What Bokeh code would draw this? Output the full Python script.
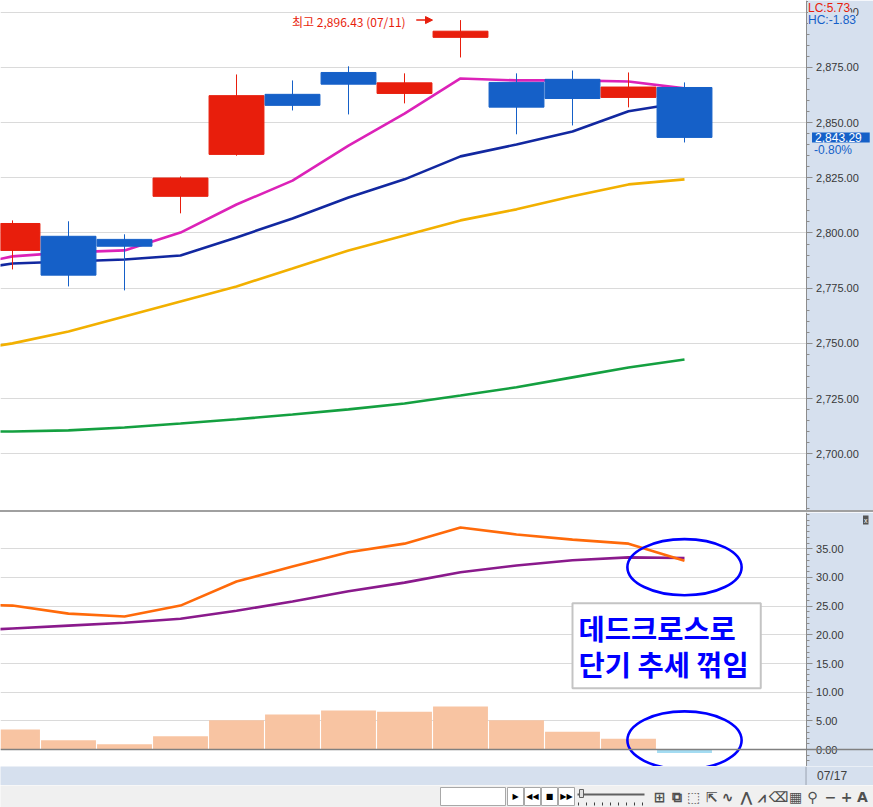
import numpy as np
from bokeh.plotting import figure
from bokeh.models import (Range1d, FixedTicker, NumeralTickFormatter, Label, Arrow,
                          NormalHead, Span, Spacer, ColumnDataSource, LinearAxis, Grid,
                          BoxAnnotation)
from bokeh.layouts import column
from bokeh.embed import file_html
from bokeh.resources import INLINE
from bokeh.core.properties import value

# ---------------- data ----------------
dates = ["06/28", "07/01", "07/02", "07/03", "07/04", "07/05", "07/08",
         "07/09", "07/10", "07/11", "07/12", "07/15", "07/16", "07/17"]
candle_dates = dates[1:]

opens  = [2792.1, 2798.5, 2797.1, 2816.6, 2835.6, 2862.8, 2872.7, 2863.2, 2888.6, 2868.2, 2869.6, 2861.4, 2865.9]
highs  = [2805.7, 2805.3, 2799.4, 2825.6, 2871.8, 2869.1, 2875.5, 2872.3, 2896.43, 2872.3, 2873.6, 2872.7, 2868.2]
lows   = [2783.5, 2775.8, 2774.0, 2808.9, 2835.0, 2855.5, 2853.7, 2858.7, 2879.5, 2844.7, 2848.7, 2856.9, 2841.0]
closes = [2804.3, 2780.9, 2794.0, 2824.9, 2862.2, 2857.8, 2867.4, 2868.0, 2891.4, 2857.0, 2860.9, 2866.1, 2843.29]

ma5  = [2784.0, 2789.4, 2791.2, 2792.1, 2800.2, 2812.9, 2823.7, 2839.6, 2854.1, 2870.0, 2869.1, 2869.1, 2868.6, 2865.5]
ma10 = [2782.2, 2786.2, 2787.1, 2788.0, 2789.8, 2798.0, 2806.6, 2816.1, 2824.3, 2834.7, 2840.1, 2846.0, 2855.1, 2859.2]
ma20 = [2745.9, 2750.0, 2755.4, 2762.2, 2769.0, 2775.8, 2783.9, 2792.1, 2798.9, 2805.7, 2810.7, 2816.6, 2822.0, 2824.3]
ma60 = [2709.9, 2710.1, 2710.6, 2711.9, 2713.7, 2715.6, 2717.8, 2720.1, 2722.8, 2726.4, 2730.1, 2734.6, 2739.1, 2742.7]

osc_line   = [25.4, 25.1, 23.7, 23.2, 25.1, 29.3, 31.9, 34.4, 35.9, 38.7, 37.5, 36.6, 35.9, 32.9]
osc_signal = [20.6, 21.1, 21.6, 22.1, 22.8, 24.2, 25.8, 27.6, 29.1, 30.9, 32.1, 33.0, 33.5, 33.4]
osc_hist   = [3.5, 1.6, 0.9, 2.3, 5.1, 6.1, 6.8, 6.6, 7.5, 5.1, 3.1, 1.9, -0.6]

price_ticks = [2700, 2725, 2750, 2775, 2800, 2825, 2850, 2875, 2900]
osc_ticks = [0, 5, 10, 15, 20, 25, 30, 35]
lc_value, hc_value = 5.73, -1.83
note_text = "데드크로스로\n단기 추세 꺾임"

# ---------------- styles / layout ----------------
W = 873
H_PRICE, H_SEP, H_OSC, H_STRIP, H_TB = 510, 2, 254, 19, 22
X_RANGE = (-0.2143, 15.375)
AXIS_X = 14.17            # position of the price scale column
P_Y = (2674.3, 2905.3)
O_Y = (-2.96, 41.33)
AXIS_BG = "#D6E0EE"
RED, BLUE = "#E81E0C", "#1560C8"
C_MA5, C_MA10, C_MA20, C_MA60 = "#DC22B8", "#1228A0", "#F2B000", "#14A040"
C_OSC, C_SIG = "#FF6A0A", "#8A1A8C"
PEACH, SKY = "#F8C4A2", "#A4DCF2"
FONT = "Liberation Sans"
KFONT = "Noto Sans CJK KR"

x_all = np.arange(len(dates)) - 1
cx = np.arange(len(closes))
xr = Range1d(*X_RANGE)


def plain_figure(height, x_range, y_range, bg):
    f = figure(width=W, height=height, x_range=x_range, y_range=y_range,
               output_backend="svg", toolbar_location=None,
               y_axis_location=None, x_axis_location=None, min_border=0,
               background_fill_color=bg, border_fill_color=bg,
               outline_line_color=None)
    for g in f.grid:
        g.visible = False
        g.grid_line_color = None
    return f


def make_panel(height, y_range, ticks, minor, fmt):
    f = plain_figure(height, xr, y_range, "white")
    ticker = FixedTicker(ticks=ticks, minor_ticks=minor)
    f.add_layout(Grid(dimension=1, ticker=ticker, grid_line_color="#DADADA"))
    f.add_layout(BoxAnnotation(left=AXIS_X, fill_color=AXIS_BG, fill_alpha=1,
                               line_color=None, level="underlay"))
    ax = LinearAxis(fixed_location=AXIS_X, ticker=ticker, formatter=NumeralTickFormatter(format=fmt))
    ax.axis_line_color = "#8C8C8C"
    ax.major_tick_line_color = "#8C8C8C"
    ax.minor_tick_line_color = "#8C8C8C"
    ax.major_tick_out = 6
    ax.major_tick_in = 0
    ax.minor_tick_out = 3
    ax.minor_tick_in = 0
    ax.major_label_standoff = 4
    ax.major_label_text_font = FONT
    ax.major_label_text_font_size = "11px"
    ax.major_label_text_color = "#383838"
    f.add_layout(ax, "right")
    return f


# ---------------- price panel ----------------
p = make_panel(H_PRICE, Range1d(*P_Y), price_ticks, list(range(2675, 2906, 5)), "0,0.00")

for ys, col in [(ma60, C_MA60), (ma20, C_MA20), (ma10, C_MA10), (ma5, C_MA5)]:
    p.line(x_all, ys, line_color=col, line_width=2.6)

up = [c >= o for o, c in zip(opens, closes)]
csrc = ColumnDataSource(dict(
    x=cx, h=highs, l=lows,
    top=np.maximum(opens, closes), bottom=np.minimum(opens, closes),
    color=[RED if u else BLUE for u in up]))
p.segment(x0="x", y0="l", x1="x", y1="h", line_color="color", line_width=1, source=csrc)
p.vbar(x="x", width=0.98, top="top", bottom="bottom", fill_color="color",
       line_color="color", line_width=1, source=csrc)

# highest-high note
i_max = int(np.argmax(highs))
hi = highs[i_max]
p.add_layout(Label(x=cx[i_max] - 0.98, y=hi, y_offset=-1, text=f"최고 {hi:,.2f} ({candle_dates[i_max]})",
                   text_align="right", text_baseline="middle", text_color=RED,
                   text_font=KFONT, text_font_size="12px"))
p.add_layout(Arrow(x_start=cx[i_max] - 0.79, y_start=hi, x_end=cx[i_max] - 0.5, y_end=hi,
                   line_color=RED, line_width=1.5,
                   end=NormalHead(size=7, fill_color=RED, line_color=RED)))

# price-scale info
p.add_layout(Label(x=AXIS_X, y=P_Y[1], x_offset=2, y_offset=0, text=f"LC:{lc_value:.2f}",
                   text_baseline="top", text_color=RED, text_font=FONT, text_font_size="12px",
                   background_fill_color=AXIS_BG))
p.add_layout(Label(x=AXIS_X, y=P_Y[1], x_offset=2, y_offset=-12, text=f"HC:{hc_value:.2f}",
                   text_baseline="top", text_color=BLUE, text_font=FONT, text_font_size="12px",
                   background_fill_color=AXIS_BG))
chg = (closes[-1] / closes[-2] - 1) * 100
p.add_layout(Label(x=AXIS_X, y=closes[-1], x_offset=6, text=f"{closes[-1]:,.2f}",
                   text_baseline="middle", text_color="white", text_font=FONT,
                   text_font_size="12px", background_fill_color=BLUE,
                   padding=dict(left=3, right=8, top=1, bottom=0)))
p.add_layout(Label(x=AXIS_X, y=closes[-1], x_offset=8, y_offset=-13, text=f"{chg:.2f}%",
                   text_baseline="middle", text_color=BLUE, text_font=FONT, text_font_size="12px"))

# ---------------- separator ----------------
sep = Spacer(width=W, height=H_SEP, styles={"background-color": "#A0A0A0"})

# ---------------- oscillator panel ----------------
q = make_panel(H_OSC, Range1d(*O_Y), osc_ticks, list(range(-2, 42)), "0.00")

hsrc = ColumnDataSource(dict(x=cx, top=osc_hist,
                             color=[PEACH if v >= 0 else SKY for v in osc_hist]))
q.add_layout(Span(location=0, dimension="width", line_color="#808080", line_width=1.5))
q.vbar(x="x", width=0.98, top="top", bottom=0, fill_color="color", line_color=None, source=hsrc)
q.line(x_all, osc_signal, line_color=C_SIG, line_width=2.6)
q.line(x_all, osc_line, line_color=C_OSC, line_width=2.6)

# emphasis ellipses around the last session
q.ellipse(x=[cx[-1], cx[-1]], y=[31.8, 1.6], width=2.04, height=[9.8, 10.1],
          fill_color=None, line_color="#0000FF", line_width=2.6)

q.add_layout(Label(x=10.0, y=25.5, text=note_text, text_align="left", text_baseline="top",
                   text_font=KFONT, text_font_style="bold", text_font_size="28.5px",
                   text_color="#0000FF", text_line_height=0.88,
                   background_fill_color="white", border_line_color="#C4C4C4",
                   border_line_width=2, padding=dict(left=6, right=12, top=4, bottom=4)))

q.add_layout(Label(x=X_RANGE[1], y=O_Y[1], x_offset=-5, y_offset=-3, text="x",
                   text_align="right", text_baseline="top", text_color="white",
                   text_font=FONT, text_font_size="7px",
                   background_fill_color="#555555", padding=1))

# ---------------- date strip ----------------
s = plain_figure(H_STRIP, xr, Range1d(0, 1), AXIS_BG)
s.add_layout(Span(location=AXIS_X, dimension="height", line_color="#9AA2B0", line_width=1))
s.add_layout(Label(x=AXIS_X, y=0.5, x_offset=11, text=candle_dates[-1],
                   text_baseline="middle", text_color="#404040", text_font=FONT,
                   text_font_size="12px"))

# ---------------- bottom control strip (UI chrome) ----------------
tb = plain_figure(H_TB, Range1d(0, W), Range1d(0, H_TB), "#F0F0F0")
tb.quad(left=[440], right=[505], bottom=[2], top=[20], fill_color="white", line_color="#A8A8A8")
btn_left = [507, 524, 541, 558]
tb.quad(left=btn_left, right=[b + 16 for b in btn_left], bottom=[2] * 4, top=[20] * 4,
        fill_color="white", line_color="#A8A8A8")
tb.text(x=[b + 8 for b in btn_left], y=[11] * 4, text=["▶", "◀◀", "■", "▶▶"],
        text_align="center", text_baseline="middle", text_font_size="8px",
        text_color="black", text_font=value("DejaVu Sans"))
tb.line([577, 644], [13, 13], line_color="#606060", line_width=2)
tb.quad(left=[579], right=[583], bottom=[10], top=[18], fill_color="#E0E0E0", line_color="#606060")
tick_x = list(range(578, 645, 8))
tb.segment(x0=tick_x, y0=[2] * len(tick_x), x1=tick_x, y1=[5] * len(tick_x), line_color="#404040")
icon_x = [659, 676, 693, 711, 727, 746, 761, 778, 795, 812, 830, 846, 862]
icons = ["⊞", "⧉", "⬚", "⇱", "∿", "⋀", "⩘", "⌫", "▦", "⚲", "−", "+", "A"]
tb.text(x=icon_x, y=[11] * len(icon_x), text=icons, text_align="center",
        text_baseline="middle", text_font_size="14px", text_color="#505050",
        text_font=value("DejaVu Sans"), text_font_style="bold")

layout = column(p, sep, q, s, tb, spacing=0)
open("out.html", "w").write(file_html(layout, INLINE))
